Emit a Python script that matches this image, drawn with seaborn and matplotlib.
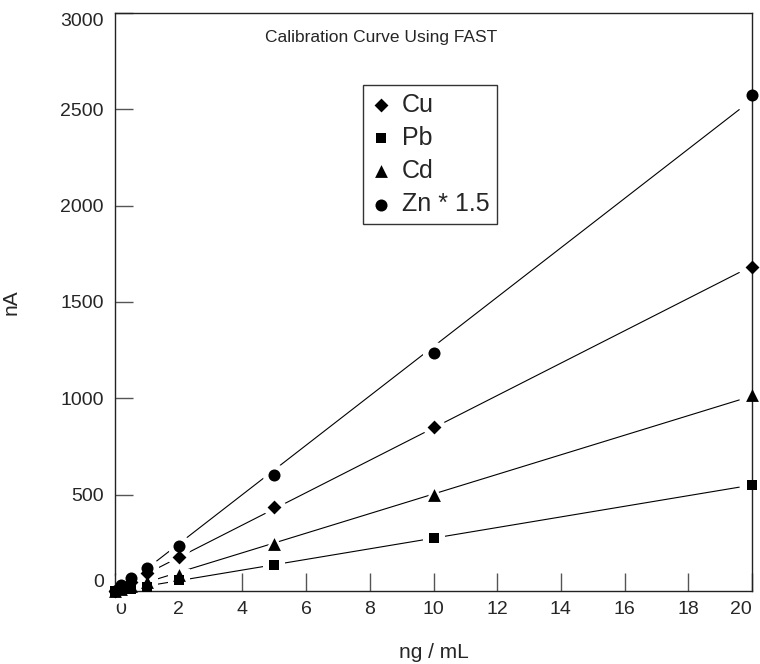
import numpy as np
import pandas as pd
import seaborn as sns
import matplotlib.pyplot as plt

conc = [0, 0.2, 0.5, 1, 2, 5, 10, 20]
cu = [0, 20, 45, 93, 175, 436, 851, 1682]
pb = [0, 6, 12, 22, 55, 135, 275, 550]
cd = [0, 12, 25, 47, 85, 244, 498, 1017]
zn = [0, 31, 67, 119, 234, 602, 1235, 2574]

names = ["Cu", "Pb", "Cd", "Zn * 1.5"]
markers = {"Cu": "D", "Pb": "s", "Cd": "^", "Zn * 1.5": "o"}
sizes = {"Cu": 50, "Pb": 62, "Cd": 85, "Zn * 1.5": 75}

df = pd.DataFrame({"conc": conc * 4,
                   "nA": cu + pb + cd + zn,
                   "metal": np.repeat(names, len(conc))})

sns.set_style("ticks")
plt.rcParams['font.family'] = ['Liberation Sans', 'DejaVu Sans']

fig = plt.figure(figsize=(7.6, 6.64), dpi=100)
ax = fig.add_axes([115 / 760, 1 - 591 / 664, 637 / 760, 578 / 664])

# fitted calibration lines
for name in names:
    sub = df[df.metal == name]
    slope, icpt = np.polyfit(sub.conc, sub.nA, 1)
    xs = np.array([0, 19.6])
    ax.plot(xs, slope * xs + icpt, color="black", lw=0.8, zorder=1)

# white halos so the lines break around the markers
for name in names:
    sub = df[df.metal == name]
    s = (np.sqrt(sizes[name]) + 8) ** 2
    sns.scatterplot(data=sub, x="conc", y="nA", marker=markers[name], s=s,
                    color="white", linewidth=0, ax=ax, zorder=2, clip_on=False)

for name in names:
    sub = df[df.metal == name]
    sns.scatterplot(data=sub, x="conc", y="nA", marker=markers[name], s=sizes[name],
                    color="black", linewidth=0, ax=ax, zorder=3, clip_on=False,
                    label=name)

ax.set_xlim(0, 20)
ax.set_ylim(0, 3000)
ax.set_xticks(range(0, 21, 2))
ax.set_yticks(range(0, 3001, 500))
ax.tick_params(direction="in", length=13, width=1, color="#555555",
               labelsize=14, top=False, right=False)
ax.tick_params(axis="x", pad=7)
ax.tick_params(axis="y", pad=8)
# end labels pulled inside, as in the original
xl = ax.get_xticklabels()
xl[0].set_ha("left")
xl[-1].set_ha("right")
yl = ax.get_yticklabels()
yl[0].set_va("bottom")
yl[-1].set_va("top")

for sp in ax.spines.values():
    sp.set_color("#222222")
    sp.set_linewidth(1)

ax.set_xlabel("ng / mL", fontsize=15, labelpad=18)
ax.set_ylabel("nA", fontsize=15, labelpad=29)
ax.text(0.418, 0.957, "Calibration Curve Using FAST", transform=ax.transAxes,
        ha="center", va="center", fontsize=12.5)

leg = ax.legend(loc="upper left", bbox_to_anchor=(363 / 760, 1 - 85 / 664),
                bbox_transform=fig.transFigure, borderaxespad=0,
                fontsize=18, frameon=True, fancybox=False, edgecolor="black",
                handletextpad=0.46, labelspacing=0.37, handlelength=0.8,
                borderpad=0.3)
leg.get_frame().set_linewidth(1)

fig.savefig("out.png", dpi=100)
